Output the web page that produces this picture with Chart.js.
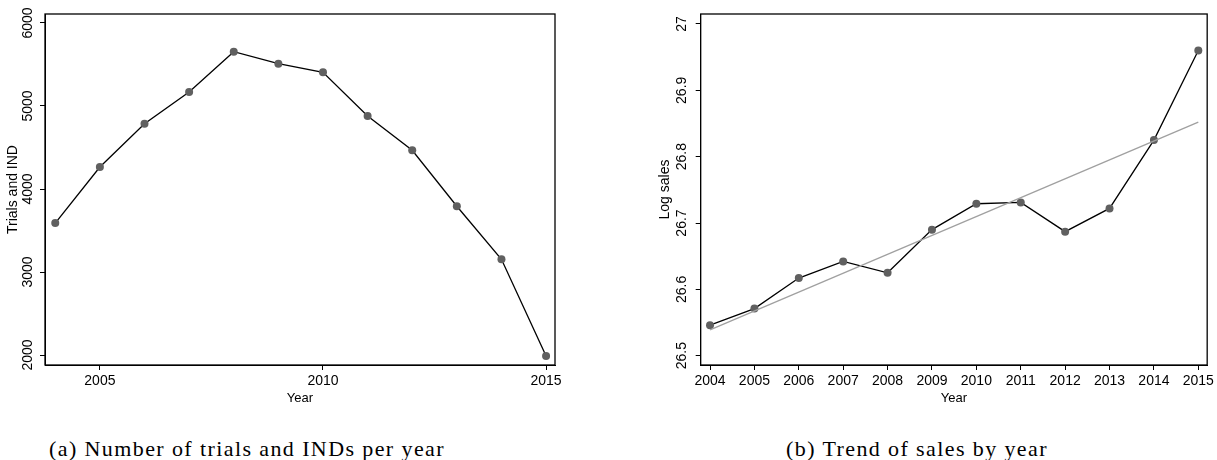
<!DOCTYPE html>
<html>
<head>
<meta charset="utf-8">
<script src="https://cdn.jsdelivr.net/npm/chart.js@4.4.1/dist/chart.umd.min.js"></script>
<style>
body { margin: 0; background: #fff; width: 1217px; height: 460px; position: relative; overflow: hidden; }
.box { position: absolute; top: 0; height: 410px; }
.cap { position: absolute; top: 436px; font-family: "Liberation Serif", serif; font-size: 22px; letter-spacing: 1.4px; white-space: nowrap; transform: translateX(-50%); color: #000; }
</style>
</head>
<body>
<div class="box" style="left:0;width:600px"><canvas id="c1"></canvas></div>
<div class="box" style="left:650px;width:567px"><canvas id="c2"></canvas></div>
<div class="cap" style="left:247px">(a) Number of trials and INDs per year</div>
<div class="cap" style="left:917px">(b) Trend of sales by year</div>
<script>
// values
var years = [2004, 2005, 2006, 2007, 2008, 2009, 2010, 2011, 2012, 2013, 2014, 2015];
var trials = [3589, 4265, 4787, 5169, 5654, 5510, 5406, 4880, 4466, 3792, 3153, 1988];
var logSales = [26.546, 26.571, 26.617, 26.642, 26.625, 26.690, 26.729, 26.731, 26.687, 26.722, 26.825, 26.960];
var trendYears = [2004, 2015];
var trendSales = [26.539, 26.852];

var trialYearTicks = [2005, 2010, 2015];
var trialTicks = [2000, 3000, 4000, 5000, 6000];
var salesYearTicks = years;
var salesTicks = [26.5, 26.6, 26.7, 26.8, 26.9, 27];

Chart.defaults.font.family = '"Liberation Sans", Arial, sans-serif';
Chart.defaults.color = '#000';

var frame = {
  id: 'frame',
  afterDraw: function (chart) {
    var a = chart.chartArea, c = chart.ctx;
    c.save();
    c.strokeStyle = '#000';
    c.lineWidth = 1.3;
    c.strokeRect(a.left, a.top, a.right - a.left, a.bottom - a.top);
    c.restore();
  }
};

function pts(xs, ys) {
  return xs.map(function (x, i) { return { x: x, y: ys[i] }; });
}

function makeOpts(o) {
  return {
    responsive: true,
    maintainAspectRatio: false,
    animation: false,
    devicePixelRatio: 1,
    layout: { padding: { top: 14, right: o.padRight, bottom: 0, left: 0 } },
    plugins: { legend: { display: false }, tooltip: { enabled: false } },
    scales: {
      x: {
        type: 'linear',
        min: o.xMin, max: o.xMax,
        afterBuildTicks: function (s) { s.ticks = o.xTicks.map(function (v) { return { value: v }; }); },
        afterFit: function (s) { s.height = 45; },
        grid: { drawOnChartArea: false, color: '#000', tickLength: 5, tickWidth: 1 },
        border: { color: '#000', width: 1 },
        ticks: { autoSkip: false, maxRotation: 0, padding: 3, font: { size: 14 },
                 callback: function (v) { return String(v); } },
        title: { display: true, text: 'Year', font: { size: 13 }, padding: { top: 0, bottom: 4 } }
      },
      y: {
        min: o.yMin, max: o.yMax,
        afterBuildTicks: function (s) { s.ticks = o.yTicks.map(function (v) { return { value: v }; }); },
        afterFit: function (s) { s.width = o.yWidth; },
        grid: { drawOnChartArea: false, color: '#000', tickLength: 5, tickWidth: 1 },
        border: { color: '#000', width: 1 },
        ticks: { minRotation: 90, maxRotation: 90, crossAlign: 'center', padding: o.tickPad,
                 font: { size: 14 }, callback: function (v) { return String(v); } },
        title: { display: true, text: o.yTitle, font: { size: 14 }, padding: { top: o.titlePad, bottom: 0 } }
      }
    }
  };
}

var dotColor = '#606060';

new Chart(document.getElementById('c1'), {
  type: 'line',
  data: {
    datasets: [{
      data: pts(years, trials),
      borderColor: '#000', borderWidth: 1.3, tension: 0,
      pointRadius: 4, pointBackgroundColor: dotColor, pointBorderColor: dotColor, pointBorderWidth: 0
    }]
  },
  options: makeOpts({ xMin: 2003.77, xMax: 2015.2, xTicks: trialYearTicks,
                      yMin: 1880, yMax: 6108, yTicks: trialTicks,
                      yWidth: 45, padRight: 45, tickPad: -3.5, titlePad: 5, yTitle: 'Trials and IND' }),
  plugins: [frame]
});

new Chart(document.getElementById('c2'), {
  type: 'line',
  data: {
    datasets: [{
      data: pts(trendYears, trendSales),
      borderColor: '#a0a0a0', borderWidth: 1.3, tension: 0, pointRadius: 0
    }, {
      data: pts(years, logSales),
      borderColor: '#000', borderWidth: 1.3, tension: 0,
      pointRadius: 4, pointBackgroundColor: dotColor, pointBorderColor: dotColor, pointBorderWidth: 0
    }]
  },
  options: makeOpts({ xMin: 2003.79, xMax: 2015.2, xTicks: salesYearTicks,
                      yMin: 26.486, yMax: 27.015, yTicks: salesTicks,
                      yWidth: 50.7, padRight: 7, tickPad: -0.5, titlePad: 6.6, yTitle: 'Log sales' }),
  plugins: [frame]
});
</script>
</body>
</html>
